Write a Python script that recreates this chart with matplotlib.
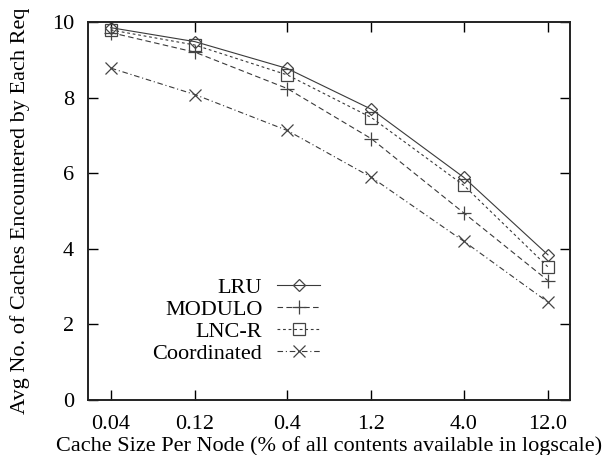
import matplotlib
matplotlib.use("Agg")
import matplotlib.pyplot as plt
from matplotlib.ticker import FixedLocator, FixedFormatter, NullLocator

# Cache size per node (% of all contents), log scale
cache_sizes = [0.04, 0.12, 0.4, 1.2, 4.0, 12.0]
tick_labels = ["0.04", "0.12", "0.4", "1.2", "4.0", "12.0"]

# Average number of caches encountered by each request
lru = [9.85, 9.48, 8.77, 7.69, 5.89, 3.84]
modulo = [9.72, 9.20, 8.24, 6.91, 4.95, 3.16]
lnc_r = [9.79, 9.39, 8.60, 7.47, 5.68, 3.52]
coordinated = [8.78, 8.08, 7.13, 5.89, 4.20, 2.59]

plt.rcParams["font.family"] = ["Liberation Serif", "DejaVu Serif"]
FS = 16

fig = plt.figure(figsize=(6.09, 4.55), dpi=100)
ax = fig.add_axes([88 / 609, 1 - 400 / 455, (570 - 88) / 609, (400 - 22) / 455])

line_color = "#3a3a3a"
common = dict(color=line_color, lw=0.8, mfc="none", mec="#444444", mew=0.9)

ax.plot(cache_sizes, lru, ls="-", marker="D", ms=6.5, label="LRU", **common)
ax.plot(cache_sizes, modulo, ls=(0, (5, 3)), marker="+", ms=10, label="MODULO", **common)
ax.plot(cache_sizes, lnc_r, ls=(0, (2.5, 2.5)), marker="s", ms=8, label="LNC-R", **common)
ax.plot(cache_sizes, coordinated, ls=(0, (5, 2.5, 1, 2.5)), marker="x", ms=9, label="Coordinated", **common)

ax.set_xscale("log")
ax.set_xlim(0.0297, 16.0)
ax.set_ylim(0, 10)
ax.xaxis.set_major_locator(FixedLocator(cache_sizes))
ax.xaxis.set_major_formatter(FixedFormatter(tick_labels))
ax.xaxis.set_minor_locator(NullLocator())
ax.set_yticks([0, 2, 4, 6, 8, 10])

ax.tick_params(axis="both", which="major", direction="in", length=7, width=1.0,
               labelsize=FS, top=True, right=True, pad=10, colors="black")
ax.tick_params(axis="x", pad=11)
for spine in ax.spines.values():
    spine.set_linewidth(1.4)
    spine.set_color("#222222")

ax.set_xlabel("Cache Size Per Node (% of all contents available in logscale)", fontsize=FS, labelpad=1.5)
ax.set_ylabel("Avg No. of Caches Encountered by Each Req", fontsize=FS, labelpad=16)

leg = ax.legend(loc="lower left", bbox_to_anchor=(0.111, 0.066), frameon=False, markerfirst=False,
                fontsize=FS, handlelength=1.9, handletextpad=0.68, labelspacing=0.06,
                borderpad=0, numpoints=1)
for t in leg.get_texts():
    t.set_ha("right")
leg._legend_box.align = "right"

fig.savefig("out.png", dpi=100)
